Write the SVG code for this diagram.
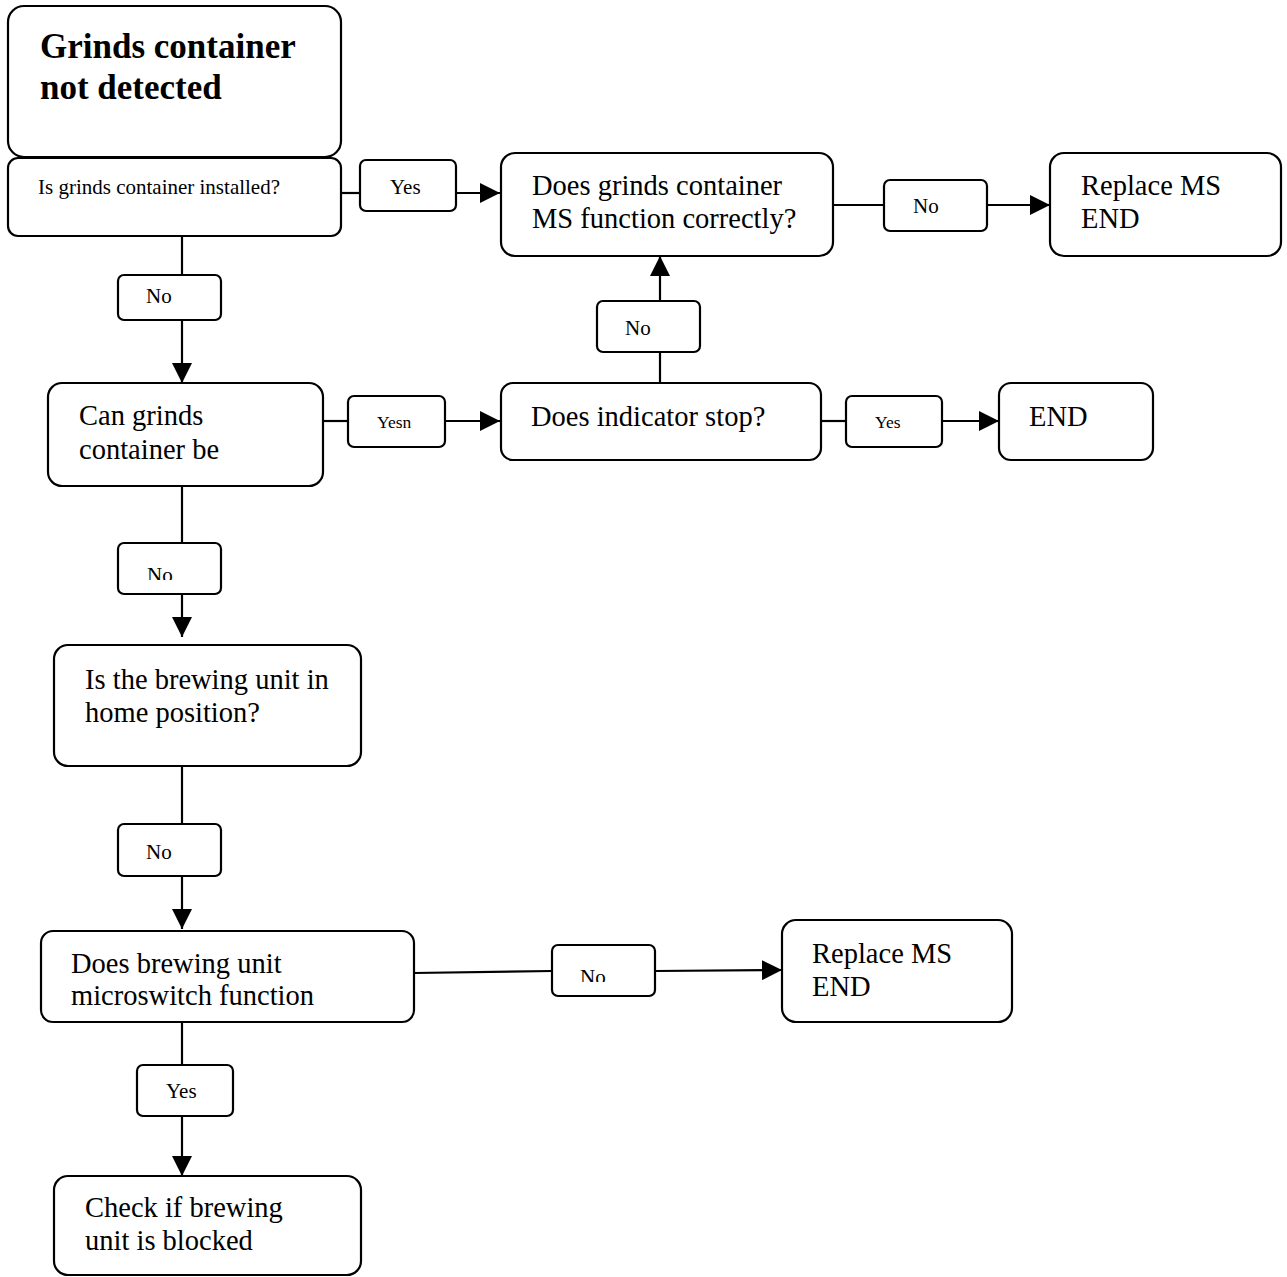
<svg xmlns="http://www.w3.org/2000/svg" width="1287" height="1277" viewBox="0 0 1287 1277">
<style>
.box{fill:#fff;stroke:#000;stroke-width:2.2}
.lbl{fill:#fff;stroke:#000;stroke-width:2.2}
.t{font-family:"Liberation Serif","Times New Roman",serif;font-size:28.5px;fill:#000}
.s{font-family:"Liberation Serif","Times New Roman",serif;font-size:21px;fill:#000}
.xs{font-family:"Liberation Serif","Times New Roman",serif;font-size:17.5px;fill:#000}
.b{font-family:"Liberation Serif","Times New Roman",serif;font-size:35px;font-weight:bold;fill:#000}
.c{stroke:#000;stroke-width:2.2;fill:none}
</style>
<defs>
<marker id="ah" viewBox="0 0 10 10" refX="10" refY="5" markerWidth="20" markerHeight="20" markerUnits="userSpaceOnUse" orient="auto">
<path d="M0,0 L10,5 L0,10 z" fill="#000"/>
</marker>
<clipPath id="clipA"><rect x="118" y="543" width="103" height="37"/></clipPath>
<clipPath id="clipB"><rect x="552" y="945" width="103" height="37"/></clipPath>
</defs>
<g id="connectors">
<line class="c" x1="341" y1="193" x2="360" y2="193"/>
<line class="c" x1="456" y1="193" x2="500" y2="193" marker-end="url(#ah)"/>
<line class="c" x1="833" y1="205" x2="884" y2="205"/>
<line class="c" x1="987" y1="205" x2="1050" y2="205" marker-end="url(#ah)"/>
<line class="c" x1="182" y1="236" x2="182" y2="275"/>
<line class="c" x1="182" y1="320" x2="182" y2="383" marker-end="url(#ah)"/>
<line class="c" x1="323" y1="421" x2="348" y2="421"/>
<line class="c" x1="445" y1="421" x2="500" y2="421" marker-end="url(#ah)"/>
<line class="c" x1="821" y1="421" x2="846" y2="421"/>
<line class="c" x1="942" y1="421" x2="999" y2="421" marker-end="url(#ah)"/>
<line class="c" x1="660" y1="383" x2="660" y2="352"/>
<line class="c" x1="660" y1="301" x2="660" y2="256" marker-end="url(#ah)"/>
<line class="c" x1="182" y1="486" x2="182" y2="543"/>
<line class="c" x1="182" y1="594" x2="182" y2="637" marker-end="url(#ah)"/>
<line class="c" x1="182" y1="766" x2="182" y2="824"/>
<line class="c" x1="182" y1="876" x2="182" y2="929" marker-end="url(#ah)"/>
<line class="c" x1="414" y1="973" x2="552" y2="971"/>
<line class="c" x1="655" y1="971" x2="782" y2="970" marker-end="url(#ah)"/>
<line class="c" x1="182" y1="1022" x2="182" y2="1065"/>
<line class="c" x1="182" y1="1116" x2="182" y2="1176" marker-end="url(#ah)"/>
</g>
<g id="n-title">
<rect class="box" x="8" y="6" width="333" height="151" rx="16"/>
<text class="b" x="40" y="58">Grinds container</text>
<text class="b" x="40" y="99">not detected</text>
</g>
<g id="n-installed">
<rect class="box" x="8" y="158" width="333" height="78" rx="10"/>
<text class="s" x="38" y="194">Is grinds container installed?</text>
</g>
<g id="l-yes1">
<rect class="lbl" x="360" y="160" width="96" height="51" rx="6"/>
<text class="s" x="390" y="194">Yes</text>
</g>
<g id="n-ms-function">
<rect class="box" x="501" y="153" width="332" height="103" rx="14"/>
<text class="t" x="532" y="195">Does grinds container</text>
<text class="t" x="532" y="228">MS function correctly?</text>
</g>
<g id="l-no1">
<rect class="lbl" x="884" y="180" width="103" height="51" rx="6"/>
<text class="s" x="913" y="213">No</text>
</g>
<g id="n-replace1">
<rect class="box" x="1050" y="153" width="231" height="103" rx="14"/>
<text class="t" x="1081" y="195">Replace MS</text>
<text class="t" x="1081" y="228">END</text>
</g>
<g id="l-no2">
<rect class="lbl" x="118" y="275" width="103" height="45" rx="6"/>
<text class="s" x="146" y="303">No</text>
</g>
<g id="n-can-grinds">
<rect class="box" x="48" y="383" width="275" height="103" rx="14"/>
<text class="t" x="79" y="425">Can grinds</text>
<text class="t" x="79" y="459">container be</text>
</g>
<g id="l-yesn">
<rect class="lbl" x="348" y="396" width="97" height="51" rx="6"/>
<text class="xs" x="377" y="428">Yesn</text>
</g>
<g id="n-indicator">
<rect class="box" x="501" y="383" width="320" height="77" rx="12"/>
<text class="t" x="531" y="426">Does indicator stop?</text>
</g>
<g id="l-yes2">
<rect class="lbl" x="846" y="396" width="96" height="51" rx="6"/>
<text class="xs" x="875" y="428">Yes</text>
</g>
<g id="n-end1">
<rect class="box" x="999" y="383" width="154" height="77" rx="12"/>
<text class="t" x="1029" y="426">END</text>
</g>
<g id="l-no3">
<rect class="lbl" x="597" y="301" width="103" height="51" rx="6"/>
<text class="s" x="625" y="335">No</text>
</g>
<g id="l-no4">
<rect class="lbl" x="118" y="543" width="103" height="51" rx="6"/>
<text class="s" x="147" y="582" clip-path="url(#clipA)">No</text>
</g>
<g id="n-home">
<rect class="box" x="54" y="645" width="307" height="121" rx="14"/>
<text class="t" x="85" y="689">Is the brewing unit in</text>
<text class="t" x="85" y="722">home position?</text>
</g>
<g id="l-no5">
<rect class="lbl" x="118" y="824" width="103" height="52" rx="6"/>
<text class="s" x="146" y="859">No</text>
</g>
<g id="n-microswitch">
<rect class="box" x="41" y="931" width="373" height="91" rx="12"/>
<text class="t" x="71" y="973">Does brewing unit</text>
<text class="t" x="71" y="1005">microswitch function</text>
</g>
<g id="l-no6">
<rect class="lbl" x="552" y="945" width="103" height="51" rx="6"/>
<text class="s" x="580" y="984" clip-path="url(#clipB)">No</text>
</g>
<g id="n-replace2">
<rect class="box" x="782" y="920" width="230" height="102" rx="14"/>
<text class="t" x="812" y="963">Replace MS</text>
<text class="t" x="812" y="996">END</text>
</g>
<g id="l-yes3">
<rect class="lbl" x="137" y="1065" width="96" height="51" rx="6"/>
<text class="s" x="166" y="1098">Yes</text>
</g>
<g id="n-blocked">
<rect class="box" x="54" y="1176" width="307" height="99" rx="14"/>
<text class="t" x="85" y="1217">Check if brewing</text>
<text class="t" x="85" y="1250">unit is blocked</text>
</g>
</svg>
